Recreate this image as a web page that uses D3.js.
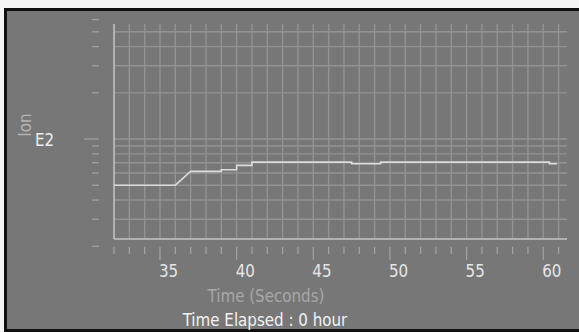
<!DOCTYPE html>
<html>
<head>
<meta charset="utf-8">
<script src="https://cdn.jsdelivr.net/npm/d3@7"></script>
<style>
  html, body { margin: 0; padding: 0; background: #ffffff; }
  svg { display: block; }
  text { font-family: "DejaVu Sans Condensed", "DejaVu Sans", sans-serif; font-stretch: condensed; }
</style>
</head>
<body>
<svg id="chart" width="579" height="332"></svg>
<script>
// ---- data ----
const times     = [32, 36, 37, 39, 39, 40, 40, 41, 41, 47.5, 47.5, 49.4, 49.4, 60.4, 60.4, 60.9];
const ionValues = [50, 50, 61.5, 61.5, 63, 63, 67.3, 67.3, 70.7, 70.7, 69, 69, 70.7, 70.7, 69, 69];
const xTickValues = [35, 40, 45, 50, 55, 60];
const xMinorTicks = d3.range(32, 62);
const yTickValues = [20, 30, 40, 50, 60, 70, 80, 90, 100, 200, 300, 400, 500, 600];
const yMajorTick = 100;
const yMajorLabel = "E2";
const yTitle = "Ion";
const xTitle = "Time (Seconds)";
const footer = "Time Elapsed : 0 hour";

// ---- layout ----
const svg = d3.select("#chart");
const W = 579, H = 332;
const plot = { left: 114, right: 567, top: 24, bottom: 239 };
const fs = 16.8;

svg.append("rect").attr("x", 0).attr("y", 0).attr("width", W).attr("height", H).attr("fill", "#f4f4f4");
svg.append("rect").attr("x", 4).attr("y", 8).attr("width", W - 4).attr("height", H - 8).attr("fill", "#101010");
svg.append("rect").attr("x", 7).attr("y", 11).attr("width", W - 7).attr("height", 318).attr("fill", "#777777");

const x = d3.scaleLinear().domain([32, 61.55]).range([plot.left, plot.right]);
const y = d3.scaleLog().domain([22.3, 562]).range([plot.bottom, plot.top]);

const gridColor = "#939393";
// vertical gridlines
svg.append("g").selectAll("line").data(xMinorTicks.slice(1)).join("line")
  .attr("x1", d => x(d)).attr("x2", d => x(d))
  .attr("y1", plot.top).attr("y2", plot.bottom)
  .attr("stroke", gridColor).attr("stroke-width", 1.4);
// horizontal gridlines
const [yLo, yHi] = y.domain();
svg.append("g").selectAll("line").data(yTickValues.filter(v => v > yLo && v < yHi)).join("line")
  .attr("x1", plot.left).attr("x2", plot.right)
  .attr("y1", d => y(d)).attr("y2", d => y(d))
  .attr("stroke", gridColor).attr("stroke-width", 1.4);

// axis lines
svg.append("line").attr("x1", plot.left).attr("x2", plot.left).attr("y1", plot.top).attr("y2", plot.bottom)
  .attr("stroke", "#c4c4c4").attr("stroke-width", 1.5);
svg.append("line").attr("x1", plot.left).attr("x2", plot.right).attr("y1", plot.bottom).attr("y2", plot.bottom)
  .attr("stroke", "#c4c4c4").attr("stroke-width", 1.5);

// y ticks (detached from axis)
svg.append("g").selectAll("line").data(yTickValues).join("line")
  .attr("x1", d => d === yMajorTick ? 84 : 92).attr("x2", 99)
  .attr("y1", d => y(d)).attr("y2", d => y(d))
  .attr("stroke", "#a4a4a4").attr("stroke-width", 1.2);

// x ticks (detached from axis)
svg.append("g").selectAll("line").data(xMinorTicks).join("line")
  .attr("x1", d => x(d)).attr("x2", d => x(d))
  .attr("y1", 247).attr("y2", d => xTickValues.includes(d) ? 260 : 254)
  .attr("stroke", "#a4a4a4").attr("stroke-width", 1.2);

svg.append("g").selectAll("text").data(xTickValues).join("text")
  .attr("x", d => x(d) - 1).attr("y", 277)
  .attr("fill", "#e6e6e6").attr("font-size", fs)
  .text(d => d);

// y label
svg.append("text").attr("x", 35).attr("y", 146).attr("fill", "#ececec").attr("font-size", fs).text(yMajorLabel);
svg.append("text").attr("transform", "translate(31,125) rotate(-90)")
  .attr("text-anchor", "middle").attr("fill", "#b4b4b4").attr("font-size", fs).text(yTitle);

// titles
svg.append("text").attr("x", 266).attr("y", 302).attr("text-anchor", "middle")
  .attr("fill", "#a8a8a8").attr("font-size", fs).text(xTitle);
svg.append("text").attr("x", 265).attr("y", 326).attr("text-anchor", "middle")
  .attr("fill", "#f2f2f2").attr("font-size", fs).text(footer);

// data line
const pts = times.map((t, i) => [t, ionValues[i]]);
svg.append("path").datum(pts)
  .attr("fill", "none").attr("stroke", "#dcdcdc").attr("stroke-width", 1.6)
  .attr("d", d3.line().x(d => x(d[0])).y(d => y(d[1])));
</script>
</body>
</html>
